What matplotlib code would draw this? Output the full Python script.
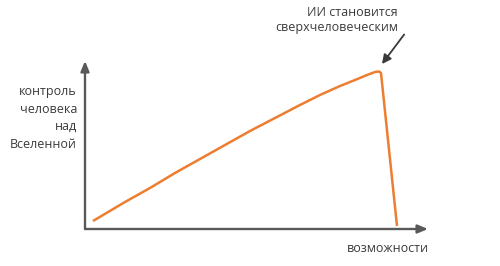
"""Кривая: контроль человека над Вселенной в зависимости от возможностей ИИ."""

import matplotlib.pyplot as plt

plt.rcParams["font.family"] = ["Open Sans", "DejaVu Sans"]

# Данные кривой (условные единицы, начало координат в углу осей)
capability = [8, 40, 65, 90, 115, 140, 165, 190, 215, 235, 255, 270, 282, 290, 294, 296, 312]
control = [8, 27, 41, 56, 70, 84, 98, 111, 124, 134, 143, 149, 154, 157, 157.5, 156, 3]

peak_label = "ИИ становится\nсверхчеловеческим"
x_label = "возможности"
y_label = "контроль\nчеловека\nнад\nВселенной"

ORANGE = "#ED7D31"
AXIS = "#595959"
TEXT = "#3A3A3A"

fig = plt.figure(figsize=(5, 2.66), dpi=100)
ax = fig.add_axes([0, 0, 1, 1])
ax.set_xlim(-85, 415)
ax.set_ylim(-37, 229)
ax.axis("off")

# Оси со стрелками
arrow_style = dict(arrowstyle="-|>,head_length=0.6,head_width=0.25",
                   color=AXIS, lw=1.7, shrinkA=0, shrinkB=0)
ax.annotate("", xy=(343, 0), xytext=(0, 0), arrowprops=arrow_style)
ax.annotate("", xy=(0, 168), xytext=(0, 0), arrowprops=arrow_style)

# Кривая
ax.plot(capability, control, color=ORANGE, lw=1.8,
        solid_joinstyle="round", solid_capstyle="butt")

# Подписи
ax.text(-8, 111, y_label, ha="right", va="center", fontsize=9,
        color=TEXT, linespacing=1.45)
ax.text(344, -20, x_label, ha="right", va="center", fontsize=9, color=TEXT)
ax.annotate(peak_label, xy=(297, 165), xytext=(313, 209),
            ha="right", va="center", fontsize=9, color=TEXT, linespacing=1.3,
            arrowprops=dict(arrowstyle="-|>,head_length=0.6,head_width=0.3",
                            color=TEXT, lw=1.3, shrinkA=0, shrinkB=0,
                            relpos=(1.05, 0.0)))

plt.savefig("out.png", dpi=100)
